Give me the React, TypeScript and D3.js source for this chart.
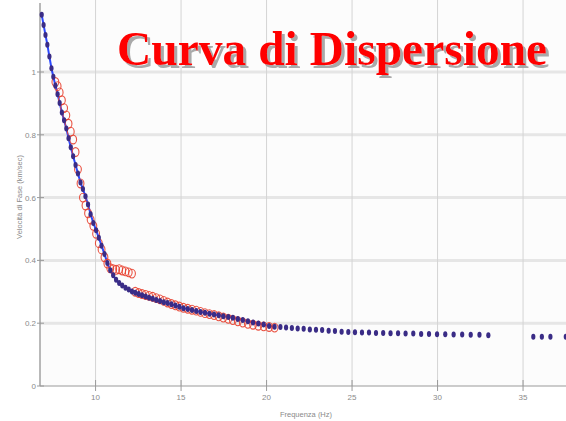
import React from "react";
import * as d3 from "d3";

const freq: number[] = [
  6.85, 6.96, 7.07, 7.18, 7.30, 7.42, 7.53, 7.65, 7.78, 7.90,
  8.03, 8.16, 8.29, 8.42, 8.55, 8.69, 8.83, 8.97, 9.12, 9.26,
  9.41, 9.56, 9.71, 9.87, 10.03, 10.19, 10.35, 10.52, 10.69, 10.86,
  11.03, 11.20, 11.38, 11.56, 11.75, 11.94, 12.13, 12.32, 12.52, 12.72,
  12.93, 13.13, 13.34, 13.55, 13.77, 13.99, 14.21, 14.44, 14.67, 14.90,
  15.14, 15.39, 15.64, 15.89, 16.14, 16.40, 16.66, 16.93, 17.20, 17.47,
  17.76, 18.03, 18.32, 18.61, 18.91, 19.21, 19.52, 19.83, 20.15, 20.47,
  20.81, 21.14, 21.48, 21.82, 22.17, 22.53, 22.89, 23.25, 23.63, 24.00,
  24.39, 24.78, 25.17, 25.58, 25.99, 26.40, 26.82, 27.25, 27.69, 28.13,
  28.58, 29.04, 29.50, 29.97, 30.45, 30.94, 31.44, 31.94, 32.45, 32.97,
  35.60, 36.10, 36.60, 37.50,
];

const modelVel: number[] = [
  1.182, 1.150, 1.118, 1.087, 1.049, 1.012, 0.985, 0.957, 0.929, 0.901,
  0.871, 0.846, 0.820, 0.789, 0.760, 0.732, 0.704, 0.677, 0.648, 0.627,
  0.604, 0.578, 0.547, 0.519, 0.496, 0.472, 0.447, 0.420, 0.392, 0.369,
  0.353, 0.338, 0.328, 0.320, 0.313, 0.307, 0.301, 0.297, 0.293, 0.289,
  0.285, 0.281, 0.278, 0.274, 0.271, 0.267, 0.264, 0.260, 0.256, 0.252,
  0.248, 0.245, 0.242, 0.239, 0.236, 0.233, 0.230, 0.228, 0.225, 0.222,
  0.220, 0.217, 0.213, 0.210, 0.206, 0.202, 0.199, 0.196, 0.191, 0.189,
  0.188, 0.186, 0.185, 0.183, 0.182, 0.180, 0.179, 0.178, 0.176, 0.175,
  0.173, 0.172, 0.171, 0.170, 0.170, 0.169, 0.169, 0.168, 0.168, 0.167,
  0.167, 0.166, 0.166, 0.165, 0.165, 0.164, 0.164, 0.163, 0.163, 0.162,
  0.157, 0.157, 0.157, 0.157,
];

const measFreq: number[] = [
  7.65, 7.78, 7.90,
  8.03, 8.16, 8.29, 8.42, 8.55, 8.69, 8.83, 8.97, 9.12, 9.26,
  9.41, 9.56, 9.71, 9.87, 10.03, 10.19, 10.35, 10.52, 10.69, 10.86,
  11.03, 11.20, 11.38, 11.56, 11.75, 11.94, 12.13, 12.32, 12.52, 12.72,
  12.93, 13.13, 13.34, 13.55, 13.77, 13.99, 14.21, 14.44, 14.67, 14.90,
  15.14, 15.39, 15.64, 15.89, 16.14, 16.40, 16.66, 16.93, 17.20, 17.47,
  17.76, 18.03, 18.32, 18.61, 18.91, 19.21, 19.52, 19.83, 20.15, 20.47,
];

const measVel: number[] = [
  0.968, 0.955, 0.935,
  0.910, 0.885, 0.862, 0.835, 0.810, 0.785, 0.745, 0.690, 0.645, 0.600,
  0.575, 0.550, 0.530, 0.510, 0.485, 0.455, 0.435, 0.410, 0.390, 0.375,
  0.372, 0.370, 0.372, 0.368, 0.365, 0.362, 0.358, 0.300, 0.296, 0.293,
  0.290, 0.287, 0.284, 0.280, 0.276, 0.271, 0.266, 0.261, 0.257, 0.253,
  0.249, 0.246, 0.243, 0.240, 0.236, 0.232, 0.229, 0.226, 0.222, 0.218,
  0.214, 0.210, 0.206, 0.202, 0.198, 0.195, 0.192, 0.190, 0.188, 0.186,
];

const xTicks: number[] = [10, 15, 20, 25, 30, 35];
const yTicks: number[] = [0, 0.2, 0.4, 0.6, 0.8, 1];
const yTickLabels: string[] = ["0", "0.2", "0.4", "0.6", "0.8", "1"];

const title = "Curva di Dispersione";
const xLabel = "Frequenza (Hz)";
const yLabel = "Velocità di Fase (km/sec)";

const W = 566;
const H = 421;

export default function App() {
  const x = d3.scaleLinear().domain([6.75, 37.57]).range([40, 567]);
  const y = d3.scaleLinear().domain([0, 1.2]).range([386, 9.2]);

  const lineN = 70;
  const linePts: [number, number][] = freq
    .slice(0, lineN)
    .map((f, i) => [x(f), y(modelVel[i])]);
  const lineGen = d3.line();

  const sans = "'Liberation Sans', Arial, sans-serif";

  return (
    <svg
      width={W}
      height={H}
      style={{ position: "absolute", left: 0, top: 0, background: "#ffffff" }}
    >
      <defs>
        <filter id="titleShadow" x="-5%" y="-20%" width="115%" height="150%">
          <feDropShadow dx={3} dy={3} stdDeviation={0.6} floodColor="#9a9a9a" floodOpacity={0.85} />
        </filter>
      </defs>
      <rect x={0} y={0} width={W} height={H} fill="#ffffff" />
      <rect x={40} y={0} width={W - 40} height={386} fill="#fcfcfc" />
      {yTicks.slice(1).map((t) => (
        <line
          key={"hg" + t}
          x1={40}
          x2={W}
          y1={y(t)}
          y2={y(t)}
          stroke="#e6e6e6"
          strokeWidth={3}
        />
      ))}
      {xTicks.map((t) => (
        <line
          key={"vg" + t}
          x1={x(t)}
          x2={x(t)}
          y1={0}
          y2={386}
          stroke="#d4d4d4"
          strokeWidth={1}
        />
      ))}
      <line x1={40} x2={40} y1={3} y2={386} stroke="#8a8a8a" strokeWidth={1.2} />
      <line x1={40} x2={W} y1={386} y2={386} stroke="#9a9a9a" strokeWidth={1.2} />
      {yTicks.map((t, i) => (
        <g key={"yt" + t}>
          <line x1={37} x2={44} y1={y(t)} y2={y(t)} stroke="#9a9a9a" strokeWidth={1} />
          <text
            x={36}
            y={y(t) + 3}
            textAnchor="end"
            fontFamily={sans}
            fontSize={8}
            fill="#8a8a8a"
          >
            {yTickLabels[i]}
          </text>
        </g>
      ))}
      {xTicks.map((t) => (
        <g key={"xt" + t}>
          <line x1={x(t)} x2={x(t)} y1={380} y2={391} stroke="#9a9a9a" strokeWidth={1} />
          <text
            x={x(t)}
            y={400}
            textAnchor="middle"
            fontFamily={sans}
            fontSize={8}
            fill="#8a8a8a"
          >
            {t}
          </text>
        </g>
      ))}
      <text
        x={306}
        y={417}
        textAnchor="middle"
        fontFamily={sans}
        fontSize={7.5}
        fill="#8a8a8a"
      >
        {xLabel}
      </text>
      <text
        transform={`translate(22,197) rotate(-90)`}
        textAnchor="middle"
        fontFamily={sans}
        fontSize={7.5}
        fill="#8a8a8a"
      >
        {yLabel}
      </text>

      <path d={lineGen(linePts) || ""} fill="none" stroke="#2a48ff" strokeWidth={2} />
      {measFreq.map((f, i) => (
        <ellipse
          key={"m" + i}
          cx={x(f)}
          cy={y(measVel[i])}
          rx={3.4}
          ry={4.4}
          fill="none"
          stroke="#e8402f"
          strokeWidth={1.1}
          opacity={0.9}
        />
      ))}
      {freq.map((f, i) => (
        <ellipse
          key={"d" + i}
          cx={x(f)}
          cy={y(modelVel[i])}
          rx={2.1}
          ry={3}
          fill="#3a2c86"
        />
      ))}

      <text
        x={117}
        y={65}
        fontFamily="'Liberation Serif', 'Times New Roman', serif"
        fontWeight="bold"
        fontSize={47.5}
        fill="#ff0000"
        filter="url(#titleShadow)"
      >
        {title}
      </text>
    </svg>
  );
}
